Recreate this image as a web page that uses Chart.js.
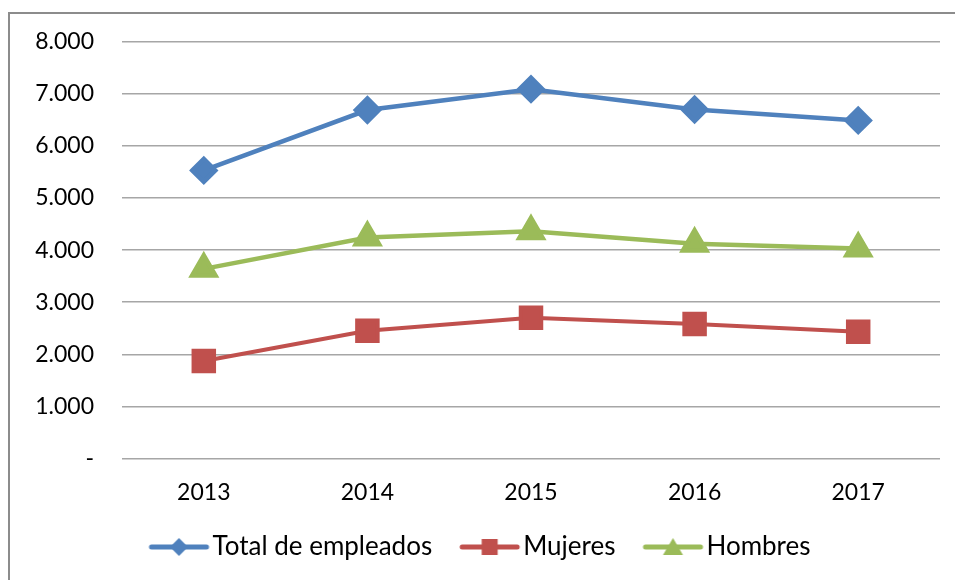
<!DOCTYPE html>
<html>
<head>
<meta charset="utf-8">
<script src="https://cdn.jsdelivr.net/npm/chart.js@4.4.1/dist/chart.umd.min.js"></script>
<style>
  body { margin: 0; background: #fff; }
  #wrap { position: relative; width: 955px; height: 580px; overflow: hidden; }
  #frame { position: absolute; left: 8px; top: 12px; width: 960px; height: 600px; border: 2px solid #8c8c8c; box-sizing: border-box; }
  canvas { position: absolute; left: 0; top: 0; }
</style>
</head>
<body>
<div id="wrap">
  <div id="frame"></div>
  <canvas id="chart" width="955" height="580"></canvas>
</div>
<script>
const years = ["2013", "2014", "2015", "2016", "2017"];
const totalEmpleados = [5530, 6690, 7090, 6700, 6490];
const mujeres = [1870, 2450, 2700, 2580, 2430];
const hombres = [3640, 4240, 4360, 4120, 4030];
const seriesNames = ["Total de empleados", "Mujeres", "Hombres"];

const BLUE = "#4f81bd";
const RED = "#c0504d";
const GREEN = "#9bbb59";
const FONT = "Lato, 'Open Sans', sans-serif";

// legend swatch: short line with the marker on top
// left part of the image is empty so it doubles as the gap between items
function legendSwatch(color, style) {
  const c = document.createElement("canvas");
  c.width = 100;
  c.height = 24;
  const ctx = c.getContext("2d");
  const x0 = 37, x1 = 92, mx = 64.5;
  ctx.strokeStyle = color;
  ctx.lineWidth = 5;
  ctx.lineCap = "round";
  ctx.beginPath();
  ctx.moveTo(x0, 12);
  ctx.lineTo(x1, 12);
  ctx.stroke();
  ctx.fillStyle = color;
  ctx.beginPath();
  if (style === "diamond") {
    ctx.moveTo(mx, 3); ctx.lineTo(mx + 9, 12); ctx.lineTo(mx, 21); ctx.lineTo(mx - 9, 12);
  } else if (style === "square") {
    ctx.rect(mx - 8, 4, 16, 16);
  } else {
    ctx.moveTo(mx, 3); ctx.lineTo(mx + 10, 20); ctx.lineTo(mx - 10, 20);
  }
  ctx.closePath();
  ctx.fill();
  return c;
}

function fmt(v) {
  if (v === 0) return "-";
  return String(v).replace(/\B(?=(\d{3})+(?!\d))/g, ".");
}

const ctx = document.getElementById("chart").getContext("2d");
new Chart(ctx, {
  type: "line",
  data: {
    labels: years,
    datasets: [
      {
        label: seriesNames[0],
        data: totalEmpleados,
        borderColor: BLUE,
        backgroundColor: BLUE,
        borderWidth: 4.5,
        pointStyle: "rectRot",
        pointRadius: 11.5,
        legendImg: legendSwatch(BLUE, "diamond")
      },
      {
        label: seriesNames[1],
        data: mujeres,
        borderColor: RED,
        backgroundColor: RED,
        borderWidth: 4,
        pointStyle: "rect",
        pointRadius: 14.5,
        legendImg: legendSwatch(RED, "square")
      },
      {
        label: seriesNames[2],
        data: hombres,
        borderColor: GREEN,
        backgroundColor: GREEN,
        borderWidth: 4.5,
        pointStyle: "triangle",
        pointRadius: 13.5,
        legendImg: legendSwatch(GREEN, "triangle")
      }
    ]
  },
  options: {
    responsive: false,
    animation: false,
    layout: { autoPadding: false, padding: { left: 0, right: 15, top: 22, bottom: 10 } },
    plugins: {
      tooltip: { enabled: false },
      legend: {
        position: "bottom",
        labels: {
          usePointStyle: true,
          pointStyleWidth: 70,
          padding: 8,
          color: "#000",
          font: { family: FONT, size: 26 },
          generateLabels: (chart) => chart.data.datasets.map((ds, i) => ({
            text: ds.label,
            pointStyle: ds.legendImg,
            fillStyle: ds.borderColor,
            strokeStyle: ds.borderColor,
            lineWidth: 0,
            hidden: false,
            datasetIndex: i,
            fontColor: "#000"
          }))
        }
      }
    },
    scales: {
      x: {
        offset: true,
        grid: { display: false, drawTicks: false },
        border: { display: false },
        ticks: { color: "#000", padding: 20, font: { family: FONT, size: 23 } }
      },
      y: {
        min: 0,
        max: 8000,
        afterFit: (scale) => { scale.width = 122; },
        grid: { color: "#a6a6a6", lineWidth: 1.5, drawTicks: false },
        border: { display: false },
        ticks: {
          stepSize: 1000,
          padding: 28,
          color: "#000",
          font: { family: FONT, size: 23 },
          callback: (v) => fmt(v)
        }
      }
    }
  }
});
</script>
</body>
</html>
